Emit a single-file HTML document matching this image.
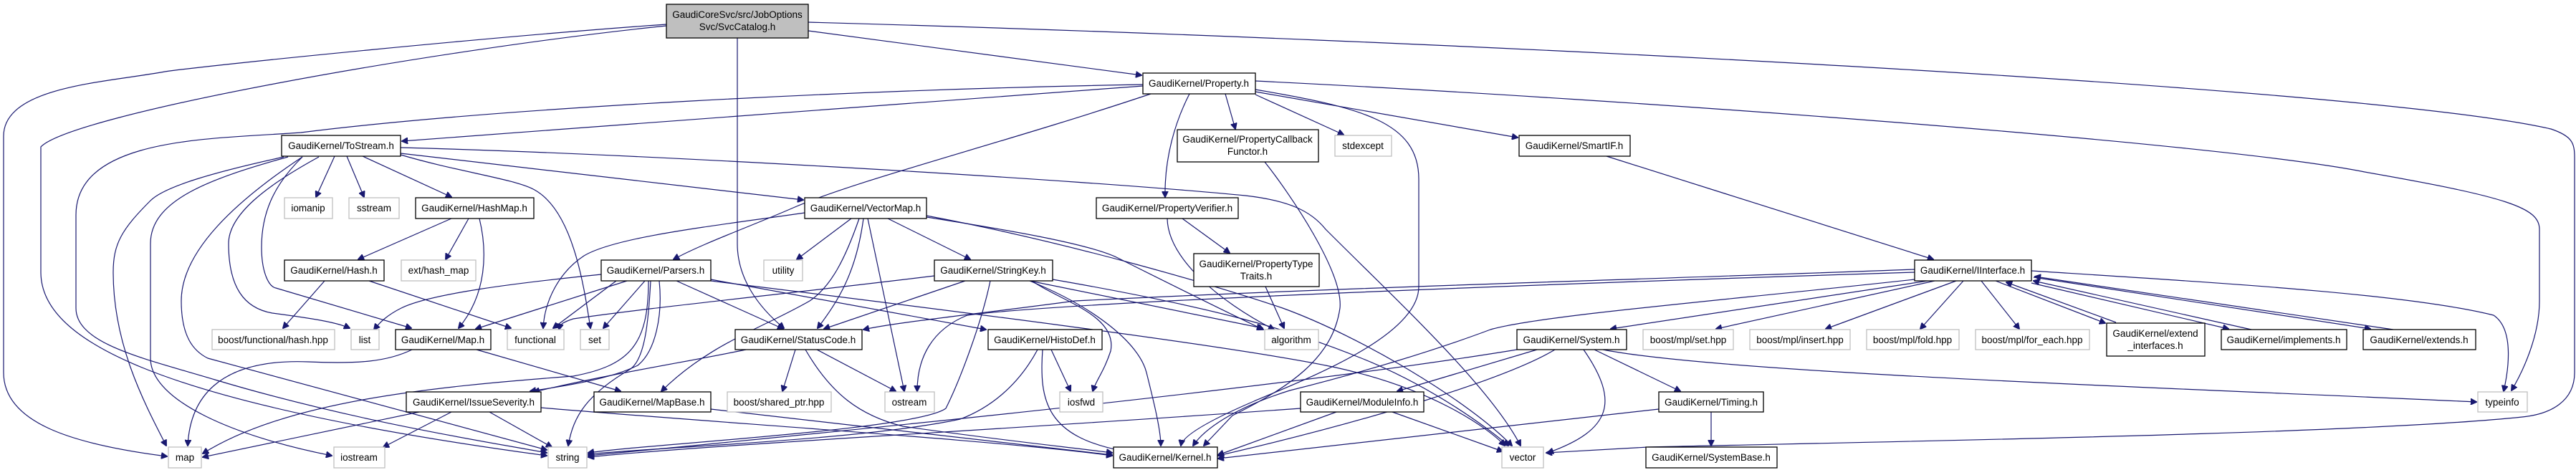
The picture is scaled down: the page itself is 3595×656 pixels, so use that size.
<!DOCTYPE html>
<html><head><meta charset="utf-8"><style>
html,body{margin:0;padding:0;background:#fff;}
svg{display:block;}
text{font-family:"Liberation Sans",sans-serif;font-size:13.5px;fill:#000;}
.b{fill:#fff;stroke:#000;stroke-width:1.3;}
.g{fill:#fff;stroke:#bfbfbf;stroke-width:1.3;}
path{fill:none;stroke:#191970;stroke-width:1.2;}
</style></head><body>
<svg width="3595" height="656" viewBox="0 0 3595 656" xmlns="http://www.w3.org/2000/svg">
<defs><marker id="a" viewBox="0 0 10 10" refX="9" refY="5" markerWidth="9" markerHeight="9" orient="auto" markerUnits="userSpaceOnUse"><path d="M0,0 L10,5 L0,10 z" style="fill:#191970;stroke:#191970"/></marker></defs>
<g marker-end="url(#a)">
<path d="M930,34 C700,50 300,90 230,100 C150,115 5,120 5,190 L5,520 C5,590 100,620 233,637"/>
<path d="M930,36 C600,70 100,160 57,205 L57,380 C57,470 200,560 763,636"/>
<path d="M1128,43 L1593,105"/>
<path d="M1029,53 L1029,340 C1029,390 1060,430 1094,458"/>
<path d="M1128,31 C2000,55 3300,120 3560,180 C3590,190 3593,200 3593,220 L3593,520 C3593,560 3560,578 3520,582 C3300,605 2700,615 2300,624 L2158,632"/>
<path d="M1595,120 L561,197"/>
<path d="M1595,118 C1200,125 700,150 420,185 C300,194 106,190 106,300 L106,430 C106,480 200,500 300,530 C500,590 700,620 763,632"/>
<path d="M1606,131 C1400,200 1200,250 1107,290 C1050,315 980,340 940,362"/>
<path d="M1710,131 L1724,180"/>
<path d="M1660,131 C1640,170 1625,220 1626,275"/>
<path d="M1752,132 L1875,188"/>
<path d="M1752,128 L2118,192"/>
<path d="M1752,125 C1900,150 1980,170 1980,250 L1980,400 C1980,470 1820,530 1750,560 C1680,590 1650,610 1648,622"/>
<path d="M1752,113 C2300,140 3100,200 3300,240 C3500,275 3544,290 3544,320 L3544,420 C3544,470 3520,520 3505,545"/>
<path d="M467,218 L441,275"/>
<path d="M484,218 L508,275"/>
<path d="M506,218 L630,275"/>
<path d="M559,214 L1121,279"/>
<path d="M559,206 C900,215 1500,250 1738,273 C1800,280 1830,295 1850,320 C1950,420 2080,540 2122,622"/>
<path d="M559,216 C640,240 720,250 746,265 C800,295 815,400 824,458"/>
<path d="M445,219 C370,260 319,300 319,340 C319,400 340,430 380,437 C440,445 470,450 488,458"/>
<path d="M422,219 C380,260 365,300 365,345 C365,380 375,400 385,402 L574,458"/>
<path d="M396,219 C300,240 230,260 210,280 C170,320 158,340 158,380 C158,480 200,560 232,622"/>
<path d="M402,219 C290,250 210,280 210,340 L210,500 C210,560 330,610 463,636"/>
<path d="M422,219 C330,280 253,350 253,420 C253,470 270,490 290,500 L763,628"/>
<path d="M630,305 L500,362"/>
<path d="M654,305 L622,362"/>
<path d="M669,305 C680,350 680,410 640,458"/>
<path d="M453,392 L395,458"/>
<path d="M515,392 L713,458"/>
<path d="M575,488 C540,505 500,508 430,505 C300,500 265,560 262,622"/>
<path d="M665,488 L866,546"/>
<path d="M1123,297 C1000,315 860,330 815,357 C780,380 760,420 758,458"/>
<path d="M1188,305 L1112,362"/>
<path d="M1199,305 C1180,360 1160,400 1130,420 C1060,460 990,480 923,546"/>
<path d="M1205,305 C1195,380 1170,420 1141,458"/>
<path d="M1211,305 L1262,546"/>
<path d="M1239,305 L1354,362"/>
<path d="M1293,303 C1400,320 1520,340 1560,360 C1640,400 1700,430 1763,460"/>
<path d="M1293,301 C1500,340 1700,400 1790,430 C1900,470 2050,560 2110,622"/>
<path d="M839,383 C720,395 600,410 560,430 C540,440 530,450 522,460"/>
<path d="M875,392 L664,459"/>
<path d="M900,392 L842,458"/>
<path d="M860,392 L772,458"/>
<path d="M1304,385 C1100,410 900,430 800,445 C785,450 782,452 780,460"/>
<path d="M944,392 L1093,459"/>
<path d="M992,390 L1376,460"/>
<path d="M920,392 C925,440 915,490 890,510 C850,530 780,540 740,546"/>
<path d="M908,392 C905,450 900,500 880,515 C820,550 800,580 793,622"/>
<path d="M1041,488 C960,505 860,520 745,547"/>
<path d="M905,392 C905,480 880,510 800,525 C600,540 400,560 283,633"/>
<path d="M992,392 C1300,430 1700,480 1850,510 C2000,540 2080,600 2100,622"/>
<path d="M1347,392 L1150,459"/>
<path d="M1382,392 C1370,450 1340,530 1320,570 C1280,600 900,620 821,632"/>
<path d="M1437,392 C1530,430 1590,480 1600,520 C1610,560 1620,600 1620,622"/>
<path d="M1437,392 L1762,458"/>
<path d="M1440,392 C1480,420 1560,440 1550,490 C1540,520 1530,530 1525,546"/>
<path d="M1469,390 C1700,430 1800,460 1900,500 C2000,540 2080,600 2105,622"/>
<path d="M2672,380 C2200,395 1500,420 1350,440 C1300,460 1280,500 1280,546"/>
<path d="M1110,488 L1092,546"/>
<path d="M1140,488 L1250,546"/>
<path d="M1124,488 C1160,550 1200,580 1260,595 C1400,615 1500,625 1552,632"/>
<path d="M1467,488 L1494,546"/>
<path d="M1455,488 C1450,560 1460,610 1570,630"/>
<path d="M1448,488 C1420,540 1380,570 1340,585 C1200,615 900,625 821,634"/>
<path d="M585,575 L283,638"/>
<path d="M630,575 L535,624"/>
<path d="M683,575 L770,624"/>
<path d="M755,569 C1000,590 1400,615 1552,636"/>
<path d="M992,571 L1552,635"/>
<path d="M1765,226 C1800,270 1875,380 1870,430 C1860,500 1800,540 1720,580 L1680,622"/>
<path d="M1650,305 L1716,353"/>
<path d="M1629,305 C1630,360 1700,420 1778,460"/>
<path d="M1766,400 L1792,458"/>
<path d="M2242,218 L2698,362"/>
<path d="M2672,376 C2300,390 1900,400 1500,420 C1350,440 1250,450 1205,460"/>
<path d="M2672,390 C2400,420 2150,440 2080,460 C2000,490 1900,520 1800,545 C1720,570 1680,600 1665,622"/>
<path d="M2690,392 L2248,459"/>
<path d="M2700,392 L2395,459"/>
<path d="M2730,392 L2548,459"/>
<path d="M2740,392 L2680,459"/>
<path d="M2765,392 L2818,459"/>
<path d="M2835,378 C3100,395 3360,410 3480,440 C3510,460 3500,520 3494,546"/>
<path d="M2785,392 L2938,451"/>
<path d="M2953,450 L2800,394"/>
<path d="M2835,395 L3110,459"/>
<path d="M3142,460 L2838,392"/>
<path d="M2838,387 L3308,459"/>
<path d="M3340,460 L2840,386"/>
<path d="M2145,488 L1950,546"/>
<path d="M2225,488 L2345,546"/>
<path d="M2210,488 C2260,560 2250,600 2160,632"/>
<path d="M2170,488 C2100,530 1900,590 1700,636"/>
<path d="M2117,488 C1800,540 1200,600 821,636"/>
<path d="M2237,488 C2400,520 3000,540 3456,561"/>
<path d="M1865,575 L1700,635"/>
<path d="M1815,570 C1400,600 1000,620 821,638"/>
<path d="M1943,575 L2097,630"/>
<path d="M2388,575 L2388,622"/>
<path d="M2315,571 L1700,640"/>
</g>
<g>
<rect x="930" y="6" width="198" height="47" style="fill:#bfbfbf;stroke:#000;stroke-width:1.3"/>
<text x="1029" y="25" text-anchor="middle">GaudiCoreSvc/src/JobOptions</text>
<text x="1029" y="42" text-anchor="middle">Svc/SvcCatalog.h</text>
<rect class="b" x="1595" y="102" width="157" height="29"/><text x="1673" y="121" text-anchor="middle">GaudiKernel/Property.h</text>
<rect class="b" x="393" y="189" width="166" height="29"/><text x="476" y="208" text-anchor="middle">GaudiKernel/ToStream.h</text>
<rect class="b" x="1643" y="181" width="197" height="45"/><text x="1741" y="199" text-anchor="middle">GaudiKernel/PropertyCallback</text><text x="1741" y="216" text-anchor="middle">Functor.h</text>
<rect class="g" x="1863" y="189" width="79" height="29"/><text x="1902" y="208" text-anchor="middle">stdexcept</text>
<rect class="b" x="2120" y="189" width="155" height="29"/><text x="2197" y="208" text-anchor="middle">GaudiKernel/SmartIF.h</text>
<rect class="g" x="397" y="276" width="67" height="29"/><text x="430" y="295" text-anchor="middle">iomanip</text>
<rect class="g" x="487" y="276" width="70" height="29"/><text x="522" y="295" text-anchor="middle">sstream</text>
<rect class="b" x="580" y="276" width="165" height="29"/><text x="662" y="295" text-anchor="middle">GaudiKernel/HashMap.h</text>
<rect class="b" x="1123" y="276" width="170" height="29"/><text x="1208" y="295" text-anchor="middle">GaudiKernel/VectorMap.h</text>
<rect class="b" x="1530" y="276" width="198" height="29"/><text x="1629" y="295" text-anchor="middle">GaudiKernel/PropertyVerifier.h</text>
<rect class="b" x="397" y="363" width="139" height="29"/><text x="466" y="382" text-anchor="middle">GaudiKernel/Hash.h</text>
<rect class="g" x="560" y="363" width="104" height="29"/><text x="612" y="382" text-anchor="middle">ext/hash_map</text>
<rect class="b" x="839" y="363" width="153" height="29"/><text x="915" y="382" text-anchor="middle">GaudiKernel/Parsers.h</text>
<rect class="g" x="1066" y="363" width="54" height="29"/><text x="1093" y="382" text-anchor="middle">utility</text>
<rect class="b" x="1304" y="363" width="165" height="29"/><text x="1386" y="382" text-anchor="middle">GaudiKernel/StringKey.h</text>
<rect class="b" x="1666" y="354" width="175" height="46"/><text x="1753" y="373" text-anchor="middle">GaudiKernel/PropertyType</text><text x="1753" y="390" text-anchor="middle">Traits.h</text>
<rect class="b" x="2672" y="363" width="163" height="29"/><text x="2753" y="382" text-anchor="middle">GaudiKernel/IInterface.h</text>
<rect class="g" x="296" y="460" width="171" height="28"/><text x="381" y="479" text-anchor="middle">boost/functional/hash.hpp</text>
<rect class="g" x="490" y="460" width="39" height="28"/><text x="509" y="479" text-anchor="middle">list</text>
<rect class="b" x="552" y="460" width="133" height="28"/><text x="618" y="479" text-anchor="middle">GaudiKernel/Map.h</text>
<rect class="g" x="708" y="460" width="79" height="28"/><text x="747" y="479" text-anchor="middle">functional</text>
<rect class="g" x="810" y="460" width="40" height="28"/><text x="830" y="479" text-anchor="middle">set</text>
<rect class="b" x="1026" y="460" width="177" height="28"/><text x="1114" y="479" text-anchor="middle">GaudiKernel/StatusCode.h</text>
<rect class="b" x="1379" y="460" width="159" height="28"/><text x="1458" y="479" text-anchor="middle">GaudiKernel/HistoDef.h</text>
<rect class="g" x="1765" y="460" width="75" height="28"/><text x="1802" y="479" text-anchor="middle">algorithm</text>
<rect class="b" x="2117" y="460" width="153" height="28"/><text x="2193" y="479" text-anchor="middle">GaudiKernel/System.h</text>
<rect class="g" x="2293" y="460" width="126" height="28"/><text x="2356" y="479" text-anchor="middle">boost/mpl/set.hpp</text>
<rect class="g" x="2442" y="460" width="140" height="28"/><text x="2512" y="479" text-anchor="middle">boost/mpl/insert.hpp</text>
<rect class="g" x="2605" y="460" width="129" height="28"/><text x="2669" y="479" text-anchor="middle">boost/mpl/fold.hpp</text>
<rect class="g" x="2757" y="460" width="159" height="28"/><text x="2836" y="479" text-anchor="middle">boost/mpl/for_each.hpp</text>
<rect class="b" x="2940" y="451" width="137" height="46"/><text x="3008" y="470" text-anchor="middle">GaudiKernel/extend</text><text x="3008" y="487" text-anchor="middle">_interfaces.h</text>
<rect class="b" x="3100" y="460" width="175" height="28"/><text x="3187" y="479" text-anchor="middle">GaudiKernel/implements.h</text>
<rect class="b" x="3298" y="460" width="157" height="28"/><text x="3376" y="479" text-anchor="middle">GaudiKernel/extends.h</text>
<rect class="b" x="567" y="547" width="188" height="28"/><text x="661" y="566" text-anchor="middle">GaudiKernel/IssueSeverity.h</text>
<rect class="b" x="829" y="547" width="163" height="28"/><text x="910" y="566" text-anchor="middle">GaudiKernel/MapBase.h</text>
<rect class="g" x="1015" y="547" width="145" height="28"/><text x="1087" y="566" text-anchor="middle">boost/shared_ptr.hpp</text>
<rect class="g" x="1235" y="547" width="69" height="28"/><text x="1269" y="566" text-anchor="middle">ostream</text>
<rect class="g" x="1479" y="547" width="60" height="28"/><text x="1509" y="566" text-anchor="middle">iosfwd</text>
<rect class="b" x="1815" y="547" width="172" height="28"/><text x="1901" y="566" text-anchor="middle">GaudiKernel/ModuleInfo.h</text>
<rect class="b" x="2315" y="547" width="146" height="28"/><text x="2388" y="566" text-anchor="middle">GaudiKernel/Timing.h</text>
<rect class="g" x="3458" y="547" width="69" height="28"/><text x="3492" y="566" text-anchor="middle">typeinfo</text>
<rect class="g" x="235" y="624" width="46" height="29"/><text x="258" y="643" text-anchor="middle">map</text>
<rect class="g" x="466" y="624" width="71" height="29"/><text x="501" y="643" text-anchor="middle">iostream</text>
<rect class="g" x="765" y="624" width="54" height="29"/><text x="792" y="643" text-anchor="middle">string</text>
<rect class="b" x="1554" y="624" width="145" height="29"/><text x="1626" y="643" text-anchor="middle">GaudiKernel/Kernel.h</text>
<rect class="g" x="2096" y="624" width="58" height="29"/><text x="2125" y="643" text-anchor="middle">vector</text>
<rect class="b" x="2297" y="624" width="183" height="29"/><text x="2388" y="643" text-anchor="middle">GaudiKernel/SystemBase.h</text>
</g>
</svg>
</body></html>
